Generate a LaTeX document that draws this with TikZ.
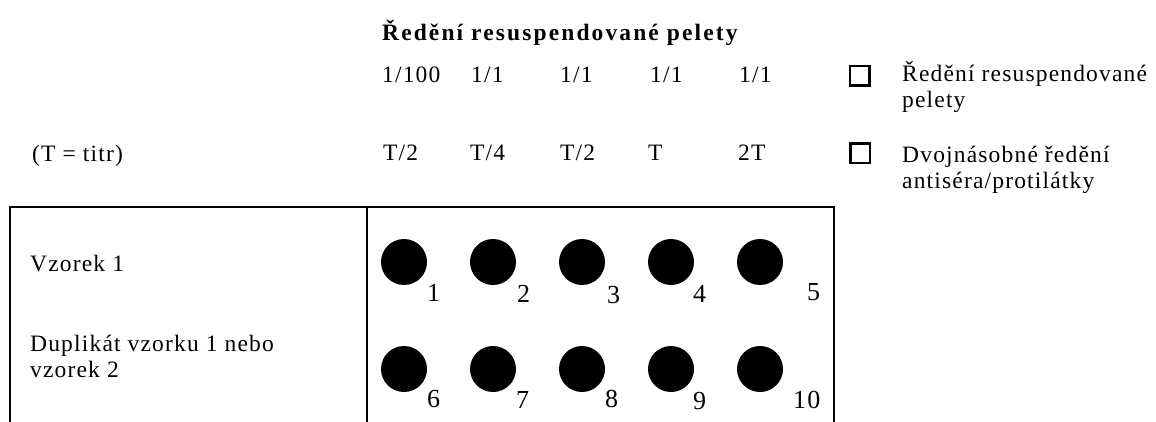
\documentclass[tikz,border=0pt]{standalone}
\usepackage{fontspec}
\setmainfont{Liberation Serif}[LetterSpace=5]
\usepackage{tikz}
\usetikzlibrary{positioning}

\begin{document}
\begin{tikzpicture}[
  x=1pt, y=-1pt,
  txt/.style={anchor=base west, inner sep=0pt, align=left, font=\fontsize{23.5}{26}\selectfont},
  ttl/.style={txt, font=\fontsize{23.5}{26}\selectfont\bfseries\addfontfeature{LetterSpace=9}},
  well/.style={circle, fill=black, minimum size=46pt, inner sep=0pt},
  wellno/.style={anchor=base west, inner sep=0pt, font=\fontsize{26}{30}\selectfont},
  keybox/.style={draw, line width=2.5pt, minimum size=19.5pt, inner sep=0pt},
  frame/.style={line width=2pt}
]
  \useasboundingbox (0,0) rectangle (1156,422);

  % header
  \node[ttl] (title) at (382,41) {Ředění resuspendované pelety};
  \node[txt] (d1) at (382,83) {1/100};
  \node[txt] (d2) at (471,83) {1/1};
  \node[txt] (d3) at (560,83) {1/1};
  \node[txt] (d4) at (650,83) {1/1};
  \node[txt] (d5) at (739,83) {1/1};
  \node[txt] (titr) at (32,162) {(T = titr)};
  \node[txt] (t1) at (383,161) {T/2};
  \node[txt] (t2) at (470,161) {T/4};
  \node[txt] (t3) at (560,161) {T/2};
  \node[txt] (t4) at (648,161) {T};
  \node[txt] (t5) at (738,161) {2T};

  % legend (base = last line)
  \node[keybox] (key1) at (859.5,76) {};
  \node[txt] (key1txt) at (902,108) {Ředění resuspendované\\pelety};
  \node[keybox] (key2) at (860,153.5) {};
  \node[txt] (key2txt) at (902,189) {Dvojnásobné ředění\\antiséra/protilátky};

  % plate frame
  \draw[frame] (10,422) -- (10,207) -- (834,207) -- (834,422);
  \draw[frame] (367,207) -- (367,422);
  \node[txt] (s1) at (30,271) {Vzorek 1};
  \node[txt] (s2) at (30,377) {Duplikát vzorku 1 nebo\\vzorek 2};

  % wells
  \node[well] (w1) at (404,262) {};
  \node[well] (w2) at (493,262) {};
  \node[well] (w3) at (582,262) {};
  \node[well] (w4) at (671,262) {};
  \node[well] (w5) at (760,262) {};
  \node[well] (w6) at (404,369) {};
  \node[well] (w7) at (493,369) {};
  \node[well] (w8) at (582,369) {};
  \node[well] (w9) at (671,369) {};
  \node[well] (w10) at (760,369) {};
  \node[wellno] (n1) at (427,301) {1};
  \node[wellno] (n2) at (517,302) {2};
  \node[wellno] (n3) at (607,303) {3};
  \node[wellno] (n4) at (693,302) {4};
  \node[wellno] (n5) at (807,300) {5};
  \node[wellno] (n6) at (427,407) {6};
  \node[wellno] (n7) at (516,408) {7};
  \node[wellno] (n8) at (605,407) {8};
  \node[wellno] (n9) at (693,409) {9};
  \node[wellno] (n10) at (793,408) {10};
\end{tikzpicture}
\end{document}
